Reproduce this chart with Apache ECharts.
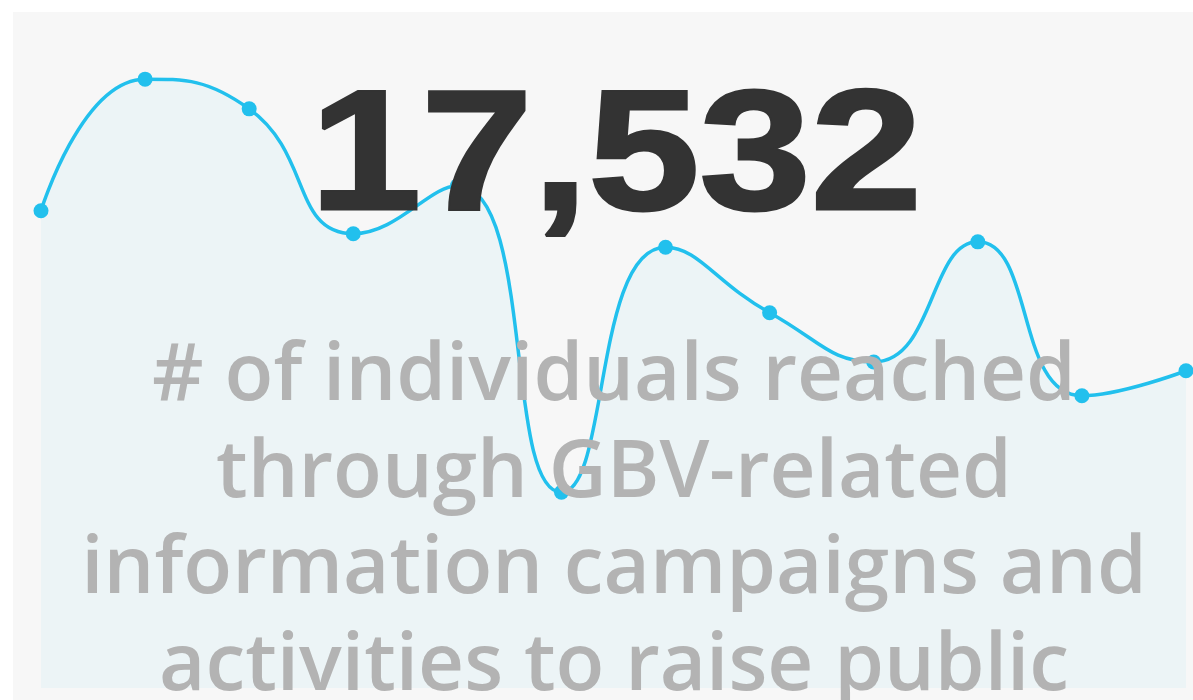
<!DOCTYPE html>
<html>
<head>
<meta charset="utf-8">
<script src="https://cdn.jsdelivr.net/npm/echarts@6/dist/echarts.min.js"></script>
<style>
  html, body { margin: 0; padding: 0; background: #ffffff; width: 1193px; height: 700px; overflow: hidden; }
  #panel { position: absolute; left: 13px; top: 12px; width: 1180px; height: 688px; background: #f7f7f7; }
  #chart { position: absolute; left: 0; top: 0; width: 1193px; height: 700px; }
</style>
</head>
<body>
<div id="panel"></div>
<div id="chart"></div>
<script>
const categories = ['1', '2', '3', '4', '5', '6', '7', '8', '9', '10', '11', '12'];
const values = [70.7, 90.2, 85.8, 67.3, 74.4, 29.0, 65.3, 55.6, 48.3, 66.1, 43.3, 47.0];
const bigNumber = '17,532';
const caption = '# of individuals reached\nthrough GBV-related\ninformation campaigns and\nactivities to raise public';

const chart = echarts.init(document.getElementById('chart'), null, { renderer: 'canvas' });
chart.setOption({
  backgroundColor: 'transparent',
  animation: false,
  grid: { left: 41, right: 7, top: 13, bottom: 12 },
  xAxis: {
    type: 'category', data: categories, boundaryGap: false, show: false
  },
  yAxis: { type: 'value', min: 0, max: 100, show: false },
  series: [{
    type: 'line',
    data: values,
    smooth: true,
    symbol: 'circle',
    symbolSize: 15,
    lineStyle: { color: '#22c0ed', width: 3.5 },
    itemStyle: { color: '#22c0ed' },
    areaStyle: { color: 'rgba(34,192,237,0.07)' },
    z: 2
  }],
  graphic: [
    {
      type: 'text', z: 100, x: 616, y: 162, scaleX: 1.17,
      style: {
        text: bigNumber, fill: '#333333', stroke: '#333333', lineWidth: 3,
        font: 'bold 171px "Liberation Sans", Arial, sans-serif',
        align: 'center', verticalAlign: 'middle'
      }
    },
    {
      type: 'text', z: 100, x: 614, y: 329,
      style: {
        text: caption, fill: '#b3b3b3',
        font: '600 80px "Open Sans", "Noto Sans", sans-serif',
        lineHeight: 96.5,
        align: 'center', verticalAlign: 'top'
      }
    }
  ]
});
</script>
</body>
</html>
